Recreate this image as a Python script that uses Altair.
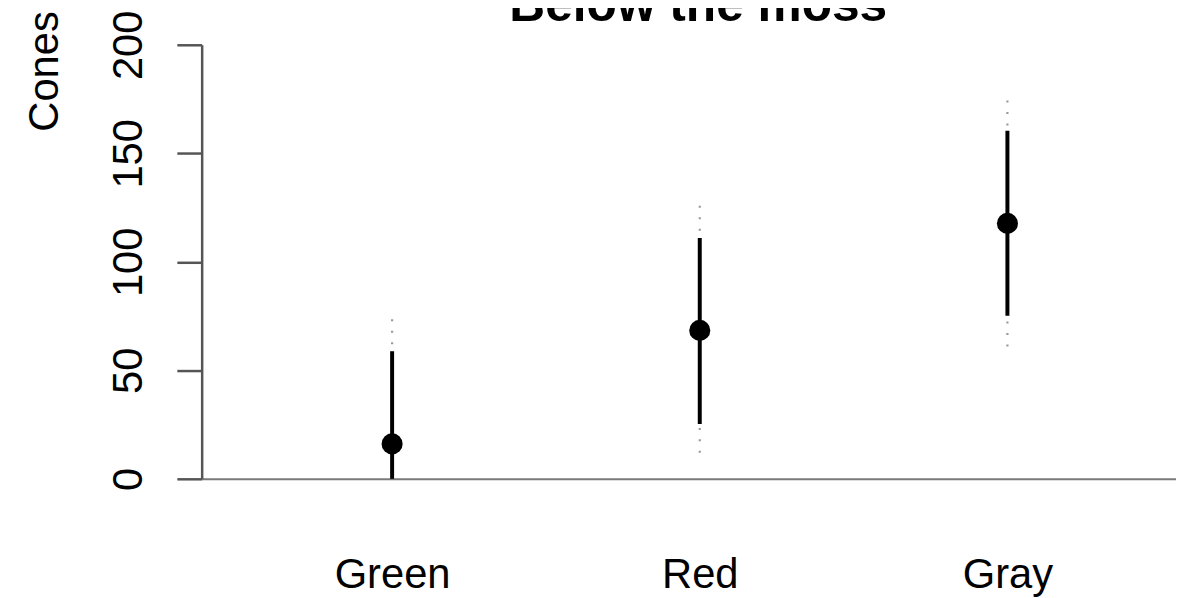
import altair as alt
import pandas as pd

categories = ["Green", "Red", "Gray"]
means = [16.1, 68.4, 117.7]
inner_low = [0.0, 25.3, 75.1]
inner_high = [58.8, 111.0, 160.4]
outer_low = [0.0, 12.0, 61.0]
outer_high = [73.5, 125.8, 174.3]
y_ticks = [0, 50, 100, 150, 200]
title_text = ["Below the moss"]

df = pd.DataFrame({
    "group": categories,
    "mean": means,
    "lo": inner_low,
    "hi": inner_high,
    "lo2": outer_low,
    "hi2": outer_high,
})

FONT = "Liberation Sans"

x_enc = alt.X(
    "group:N",
    sort=categories,
    scale=alt.Scale(type="point", range=[0, 1003], padding=0.619),
    axis=alt.Axis(
        title=None,
        ticks=False,
        tickSize=0,
        labelAngle=0,
        labelFontSize=42,
        labelFont=FONT,
        labelColor="black",
        labelPadding=109,
        labelBaseline="alphabetic",
        domainColor="#7a7a7a",
        domainWidth=2,
        grid=False,
    ),
)

y_scale = alt.Scale(domain=[0, 200], nice=False, zero=True)
y_axis = alt.Axis(
    title="Cones",
    values=y_ticks,
    grid=False,
    tickSize=25,
    tickWidth=2.5,
    tickColor="#555555",
    domainColor="#555555",
    domainWidth=2.5,
    labelAngle=270,
    labelAlign="center",
    labelBaseline="alphabetic",
    labelPadding=36,
    labelFontSize=42,
    labelFont=FONT,
    labelColor="black",
    titleFont=FONT,
    titleFontSize=42,
    titleFontWeight="normal",
    titleColor="black",
    titleAngle=270,
    titleAlign="left",
    titleBaseline="alphabetic",
    titleX=-145,
    titleY=87,
)

base = alt.Chart(df)
dot_style = dict(color="#999999", strokeWidth=2.2, strokeDash=[2, 9.5])

dotted_upper = base.mark_rule(**dot_style).encode(
    x=x_enc,
    y=alt.Y("hi2:Q", scale=y_scale, axis=y_axis),
    y2="hi:Q",
)

dotted_lower = base.mark_rule(**dot_style).encode(
    x=x_enc,
    y=alt.Y("lo2:Q", scale=y_scale, axis=y_axis),
    y2="lo:Q",
)

solid = base.mark_rule(color="black", strokeWidth=4).encode(
    x=x_enc,
    y=alt.Y("lo:Q", scale=y_scale, axis=y_axis),
    y2="hi:Q",
)

points = base.mark_circle(color="black", opacity=1, size=450).encode(
    x=x_enc,
    y=alt.Y("mean:Q", scale=y_scale, axis=y_axis),
)

title_layer = alt.Chart(pd.DataFrame({"t": title_text})).mark_text(
    font=FONT,
    fontSize=50,
    fontWeight="bold",
    color="black",
    align="center",
    baseline="alphabetic",
).encode(
    text="t:N",
    x=alt.value(500),
    y=alt.value(-24),
)

chart = (
    alt.layer(dotted_upper, dotted_lower, solid, points, title_layer)
    .properties(
        width=981,
        height=437,
        view=alt.ViewBackground(stroke="transparent", strokeWidth=0),
        autosize=alt.AutoSizeParams(type="none"),
        padding={"left": 195, "top": 35, "right": 0, "bottom": 125},
    )
    .configure_axis(grid=False)
    .configure_view(strokeWidth=0, stroke="transparent")
    .configure(background="white")
)

chart.save("out.html", embed_options={"renderer": "svg", "actions": False})
